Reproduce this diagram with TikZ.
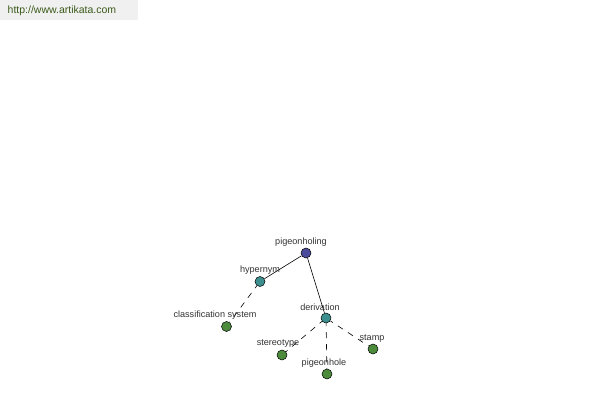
\documentclass[tikz,border=0pt]{standalone}
\usepackage{fontspec}
\setmainfont{Liberation Sans}
\usepackage{xcolor}
\usetikzlibrary{positioning}

\definecolor{rootblue}{HTML}{4B4B9B}
\definecolor{midteal}{HTML}{3D8F8F}
\definecolor{leafgreen}{HTML}{4B8B3B}
\definecolor{urlgreen}{HTML}{3B5A1A}
\definecolor{labelgray}{HTML}{333333}

\begin{document}
\begin{tikzpicture}[x=1pt,y=1pt,
  dot/.style={circle,draw=black,line width=0.5pt,minimum size=10pt,inner sep=0pt},
  word/.style={text=labelgray,font=\fontsize{9.1}{10}\selectfont,inner sep=0pt},
  solidedge/.style={black,line width=0.6pt},
  dashedge/.style={black,line width=0.6pt,dash pattern=on 6pt off 6pt,dash phase=3pt}]

\useasboundingbox (0,0) rectangle (600,400);

% header
\fill[gray!12] (0,380) rectangle (138,400);
\node[text=urlgreen,font=\fontsize{10.5}{12}\selectfont,anchor=west,inner sep=0pt] (url) at (7.5,389) {http://www.artikata.com};

% nodes
\node[dot,fill=rootblue] (pigeonholing) at (306,147) {};
\node[dot,fill=midteal] (hypernym) at (260,118.5) {};
\node[dot,fill=midteal] (derivation) at (326,82) {};
\node[dot,fill=leafgreen] (classification) at (226.5,73.5) {};
\node[dot,fill=leafgreen] (stereotype) at (282,45) {};
\node[dot,fill=leafgreen] (pigeonhole) at (327,26) {};
\node[dot,fill=leafgreen] (stamp) at (373,51) {};

% edges
\draw[solidedge] (pigeonholing) -- (hypernym);
\draw[solidedge] (pigeonholing) -- (derivation);
\draw[dashedge] (hypernym) -- (classification);
\draw[dashedge] (derivation) -- (stereotype);
\draw[dashedge] (derivation) -- (pigeonhole);
\draw[dashedge] (derivation) -- (stamp);

% labels
\node[word] (lpigeonholing) at (301,158) {pigeonholing};
\node[word] (lhypernym) at (260,130) {hypernym};
\node[word] (lderivation) at (320,93) {derivation};
\node[word] (lclassification) at (215,85) {classification system};
\node[word] (lstereotype) at (278,56) {stereotype};
\node[word] (lpigeonhole) at (324,37) {pigeonhole};
\node[word] (lstamp) at (372,62) {stamp};

\end{tikzpicture}
\end{document}
